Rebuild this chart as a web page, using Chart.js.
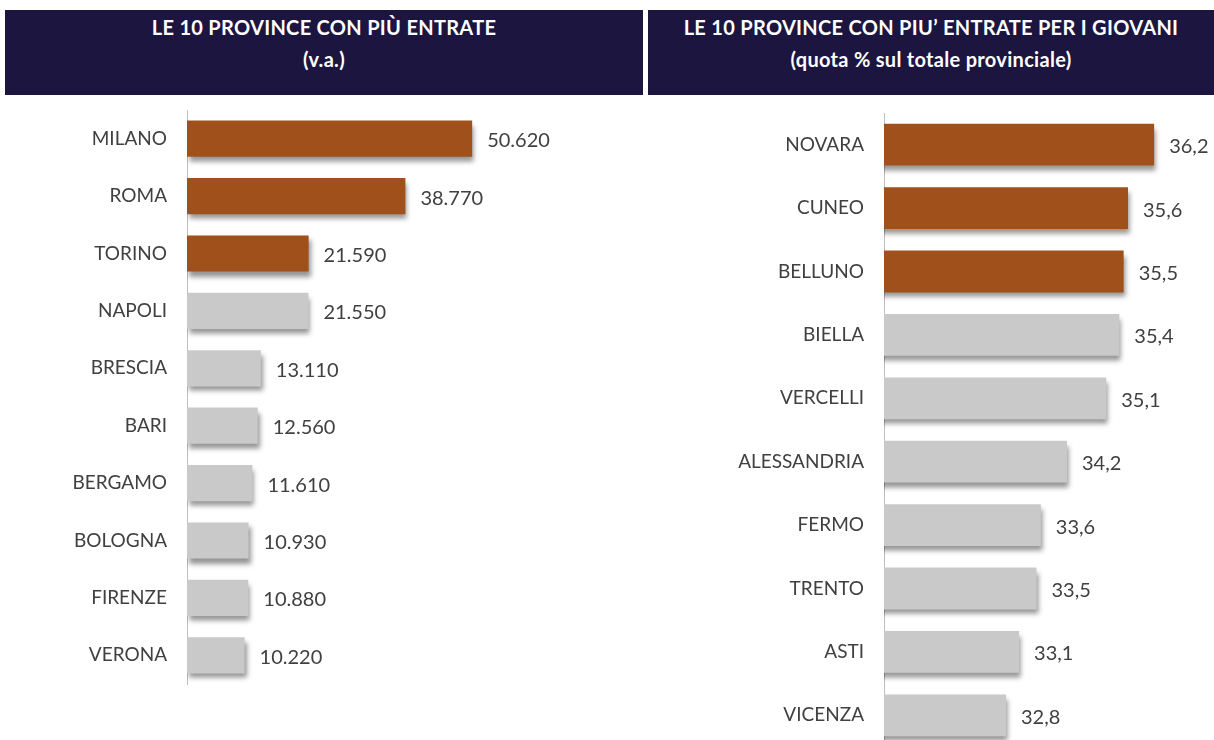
<!DOCTYPE html>
<html>
<head>
<meta charset="utf-8">
<script src="https://cdn.jsdelivr.net/npm/chart.js@4/dist/chart.umd.min.js"></script>
<style>
  html, body { margin:0; padding:0; background:#ffffff; width:1214px; height:740px; overflow:hidden; position:relative; font-family: Lato, "Open Sans", sans-serif; }
  .hdr { position:absolute; top:10px; height:85px; background:#1b1540; color:#ffffff; font-weight:bold; font-size:20px; letter-spacing:0.3px; text-align:center; line-height:32px; padding-top:1px; box-sizing:border-box; }
  #h1 { left:5px; width:638px; }
  #h2 { left:648px; width:566px; }
  .wrap { position:absolute; }
  #w1 { left:0px; top:100px; width:640px; height:600px; }
  #w2 { left:648px; top:95px; width:566px; height:760px; }
</style>
</head>
<body>
<div class="hdr" id="h1">LE 10 PROVINCE CON PIÙ ENTRATE<br>(v.a.)</div>
<div class="hdr" id="h2">LE 10 PROVINCE CON PIU’ ENTRATE PER I GIOVANI<br>(quota % sul totale provinciale)</div>
<div class="wrap" id="w1"><canvas id="c1"></canvas></div>
<div class="wrap" id="w2"><canvas id="c2"></canvas></div>
<script>
const provinceEntrate = ["MILANO","ROMA","TORINO","NAPOLI","BRESCIA","BARI","BERGAMO","BOLOGNA","FIRENZE","VERONA"];
const valoriEntrate = [50620, 38770, 21590, 21550, 13110, 12560, 11610, 10930, 10880, 10220];
const provinceGiovani = ["NOVARA","CUNEO","BELLUNO","BIELLA","VERCELLI","ALESSANDRIA","FERMO","TRENTO","ASTI","VICENZA"];
const quoteGiovani = [36.2, 35.6, 35.5, 35.4, 35.1, 34.2, 33.6, 33.5, 33.1, 32.8];
const evidenziati = 3;

const ORANGE = "#a0501a";
const GREY = "#c9c9c9";
const TEXT = "#404040";

function fmtThousands(v){
  return String(v).replace(/\B(?=(\d{3})+(?!\d))/g, ".");
}
function fmtDecimal(v){
  return v.toFixed(1).replace(".", ",");
}

const shadowPlugin = {
  id: "barShadow",
  beforeDatasetsDraw(chart){
    const ctx = chart.ctx;
    ctx.save();
    ctx.shadowColor = "rgba(0,0,0,0.42)";
    ctx.shadowBlur = 5;
    ctx.shadowOffsetX = 2;
    ctx.shadowOffsetY = 5;
  },
  afterDatasetsDraw(chart){
    chart.ctx.restore();
  }
};

const labelPlugin = {
  id: "valueLabels",
  afterDraw(chart, args, opts){
    const ctx = chart.ctx;
    const meta = chart.getDatasetMeta(0);
    const data = chart.data.datasets[0].data;
    ctx.save();
    ctx.font = "20px Lato, 'Open Sans', sans-serif";
    ctx.fillStyle = TEXT;
    ctx.textAlign = "left";
    ctx.textBaseline = "middle";
    meta.data.forEach((bar, i) => {
      ctx.fillText(opts.format(data[i]), bar.x + 15, bar.y + 2);
    });
    ctx.restore();
  }
};

function makeChart(id, labels, values, fmt, xmin, xmax, axisWidth, padding, catPct){
  const colors = values.map((v, i) => i < evidenziati ? ORANGE : GREY);
  return new Chart(document.getElementById(id), {
    type: "bar",
    data: {
      labels: labels,
      datasets: [{
        data: values,
        backgroundColor: colors,
        borderWidth: 0,
        barPercentage: 1,
        categoryPercentage: catPct
      }]
    },
    options: {
      indexAxis: "y",
      responsive: true,
      maintainAspectRatio: false,
      animation: false,
      layout: { padding: padding },
      plugins: {
        legend: { display: false },
        tooltip: { enabled: false },
        valueLabels: { format: fmt }
      },
      scales: {
        x: { display: false, min: xmin, max: xmax },
        y: {
          afterFit(scale){
            scale.width = axisWidth;
            scale.paddingTop = 0;
            scale.paddingBottom = 0;
          },
          grid: { display: false, drawTicks: false },
          border: { display: true, color: "#bfbfbf", width: 1 },
          ticks: {
            color: TEXT,
            padding: 20,
            font: { family: "Lato, 'Open Sans', sans-serif", size: 19 }
          }
        }
      }
    },
    plugins: [shadowPlugin, labelPlugin]
  });
}

makeChart("c1", provinceEntrate, valoriEntrate, fmtThousands, 0, 60000, 187,
  { left: 0, right: 115, top: 10, bottom: 16 }, 0.63);
makeChart("c2", provinceGiovani, quoteGiovani, fmtDecimal, 30, 37, 236,
  { left: 0, right: 25, top: 18, bottom: 108 }, 0.66);
</script>
</body>
</html>
